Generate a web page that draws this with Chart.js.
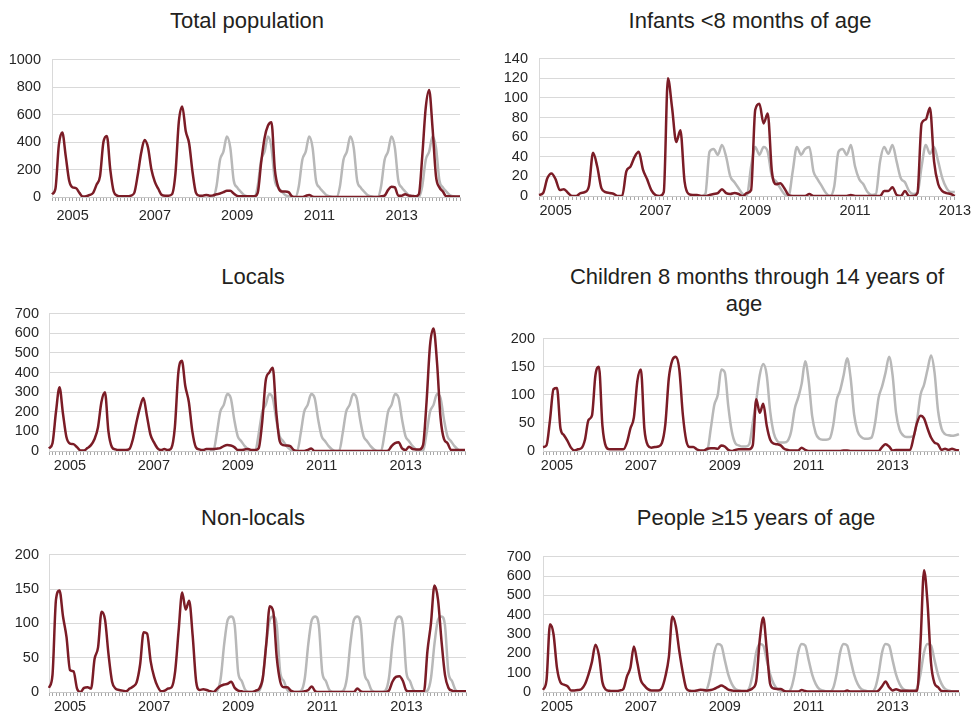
<!DOCTYPE html>
<html>
<head>
<meta charset="utf-8">
<title>Monthly cases</title>
<script src="https://cdn.jsdelivr.net/npm/chart.js@4.4.1/dist/chart.umd.min.js"></script>
<style>
  html, body { margin: 0; padding: 0; background: #fff; overflow: hidden; }
  body { width: 973px; height: 712px; position: relative; font-family: "Liberation Sans", Arial, sans-serif; }
  .title { position: absolute; width: 460px; text-align: center; font-size: 22px; line-height: 27px; color: #231f20; white-space: nowrap; }
  canvas { position: absolute; }
</style>
</head>
<body>

<div class="title" style="left:17px;top:7px">Total population</div>
<div class="title" style="left:520px;top:7px">Infants &lt;8 months of age</div>
<div class="title" style="left:23px;top:263px">Locals</div>
<div class="title" style="left:527px;top:263px">Children 8 months through 14 years of<br><span style="margin-right:26px">age</span></div>
<div class="title" style="left:23px;top:504px">Non-locals</div>
<div class="title" style="left:526px;top:504px">People ≥15 years of age</div>

<canvas id="total" width="486" height="189" style="left:0;top:40px"></canvas>
<canvas id="infants" width="487" height="189" style="left:486px;top:39px"></canvas>
<canvas id="locals" width="486" height="188" style="left:0;top:295px"></canvas>
<canvas id="children" width="487" height="161" style="left:486px;top:322px"></canvas>
<canvas id="nonlocals" width="486" height="188" style="left:0;top:536px"></canvas>
<canvas id="people" width="487" height="188" style="left:486px;top:536px"></canvas>

<script>
// month categories, "YYYY-MM"
function monthLabels(year, month, count) {
  const out = [];
  for (let k = 0; k < count; k++) {
    const m = month - 1 + k;
    out.push((year + Math.floor(m / 12)) + '-' + String(m % 12 + 1).padStart(2, '0'));
  }
  return out;
}

const monthsJul04 = monthLabels(2004, 7, 120);   // left column panels
const monthsSep04 = monthLabels(2004, 9, 120);   // right column panels
const monthsInfants = monthLabels(2004, 9, 101);
const yearTicks = ['2005', '2007', '2009', '2011', '2013'];

// Total population
const totalRed = [20, 60, 380, 470, 300, 120, 70, 65, 30, 3,
  5, 15, 30, 90, 150, 400, 445, 200, 40, 10,
  5, 5, 5, 10, 30, 160, 320, 415, 360, 200,
  110, 60, 15, 10, 10, 20, 170, 550, 660, 480,
  390, 180, 30, 10, 10, 15, 10, 12, 20, 25,
  35, 45, 45, 25, 8, 5, 5, 5, 5, 5,
  30, 250, 430, 520, 545, 200, 70, 40, 40, 35,
  5, 0, 0, 0, 8, 15, 3, 0, 0, 0,
  0, 0, 0, 0, 0, 0, 0, 0, 0, 0,
  0, 0, 0, 0, 0, 0, 5, 10, 50, 75,
  70, 10, 10, 20, 10, 8, 5, 20, 300, 650,
  780, 500, 150, 70, 40, 5, 5, 3, 3, 3];
const totalGreyFrom = '2008-05';
const totalGrey = [0,
  0, 80, 270, 330, 440, 360, 120, 70, 40, 15, 5, 0,
  0, 80, 270, 330, 440, 360, 120, 70, 40, 15, 5, 0,
  0, 80, 270, 330, 440, 360, 120, 70, 40, 15, 5, 0,
  0, 80, 270, 330, 440, 360, 120, 70, 40, 15, 5, 0,
  0, 80, 270, 330, 440, 360, 120, 70, 40, 15, 5, 0,
  0, 80, 270, 330, 440, 360, 120, 70, 40, 15, 5, 0,
  0];

// Infants <8 months
const infantsRed = [1, 3, 18, 23, 17, 6, 7, 3, 0, 0,
  3, 4, 10, 44, 30, 8, 4, 3, 2, 0,
  0, 25, 30, 40, 45, 27, 17, 6, 1, 0,
  4, 120, 90, 55, 67, 15, 2, 1, 1, 0,
  0, 1, 2, 3, 7, 3, 2, 3, 2, 0,
  3, 6, 88, 94, 74, 84, 25, 12, 13, 8,
  1, 0, 0, 0, 0, 2, 0, 0, 0, 0,
  0, 0, 0, 0, 0, 1, 0, 0, 0, 0,
  0, 0, 0, 5, 5, 9, 1, 0, 5, 0,
  0, 3, 74, 78, 90, 35, 12, 5, 3, 2,
  0];
const infantsGreyFrom = '2007-12';
const infantsGrey = [0,
  2, 45, 48, 42, 52, 40, 20, 14, 8, 2,
  1, 30, 50, 42, 50, 45, 20, 15, 8, 2,
  0, 25, 50, 42, 48, 50, 25, 17, 10, 3,
  0, 10, 45, 48, 42, 52, 30, 17, 12, 4,
  1, 2, 35, 50, 43, 52, 35, 18, 14, 5,
  2, 3, 30, 52, 43, 50, 35, 18, 8, 4, 4];

// Locals
const localsRed = [13, 40, 200, 325, 190, 70, 38, 35, 20, 3,
  3, 15, 30, 60, 120, 250, 300, 100, 20, 8,
  5, 5, 5, 10, 60, 145, 220, 270, 180, 85,
  45, 15, 5, 10, 5, 15, 120, 400, 460, 330,
  250, 100, 20, 8, 5, 10, 10, 10, 12, 15,
  25, 30, 28, 20, 5, 5, 8, 10, 5, 5,
  15, 150, 360, 400, 425, 200, 50, 30, 28, 25,
  5, 0, 0, 0, 5, 13, 0, 0, 0, 0,
  0, 0, 0, 0, 0, 0, 0, 0, 0, 0,
  0, 0, 0, 0, 0, 0, 0, 2, 25, 40,
  45, 13, 5, 22, 10, 8, 8, 30, 250, 540,
  625, 450, 170, 60, 40, 5, 5, 5, 5, 5];
const localsGreyFrom = '2008-05';
const localsGrey = [0,
  0, 90, 200, 235, 290, 270, 160, 75, 50, 25, 8, 0,
  0, 90, 200, 235, 290, 270, 160, 75, 50, 25, 8, 0,
  0, 90, 200, 235, 290, 270, 160, 75, 50, 25, 8, 0,
  0, 90, 200, 235, 290, 270, 160, 75, 50, 25, 8, 0,
  0, 90, 200, 235, 290, 270, 160, 75, 50, 25, 8, 0,
  0, 90, 200, 235, 290, 270, 160, 75, 50, 25, 8, 0,
  0];

// Children 8 months through 14 years
const childrenRed = [7, 10, 55, 110, 112, 40, 28, 18, 6, 1,
  3, 5, 20, 55, 63, 135, 150, 45, 8, 3,
  3, 3, 3, 3, 15, 40, 60, 125, 145, 40,
  10, 6, 7, 8, 14, 48, 130, 162, 168, 145,
  65, 18, 7, 7, 3, 1, 1, 4, 5, 5,
  4, 10, 8, 2, 0, 2, 3, 3, 3, 3,
  10, 92, 68, 84, 45, 20, 13, 12, 10, 4,
  2, 1, 1, 1, 6, 2, 0, 0, 0, 0,
  0, 0, 0, 0, 0, 0, 1, 1, 0, 0,
  0, 0, 0, 0, 0, 0, 0, 7, 12, 8,
  1, 2, 2, 2, 2, 2, 24, 50, 63, 58,
  40, 24, 15, 12, 2, 4, 2, 4, 2, 1];
const childrenGreyFrom = '2008-07';
const childrenGrey = [0, 2, 40, 82, 100, 145, 140, 80, 35, 14, 10, 8, 8, 12,
  50, 90, 135, 155, 135, 70, 32, 18, 15, 15, 18,
  35, 75, 95, 120, 160, 125, 62, 32, 22, 20, 20, 22,
  45, 90, 108, 135, 165, 130, 65, 35, 25, 22, 22, 24,
  50, 95, 115, 140, 168, 135, 68, 38, 28, 25, 25, 27,
  55, 100, 118, 145, 170, 140, 72, 40, 30, 28, 27, 28, 30];

// Non-locals
const nonlocalsRed = [6, 25, 135, 148, 110, 80, 32, 30, 5, 0,
  6, 7, 5, 48, 65, 117, 105, 54, 15, 5,
  3, 2, 1, 5, 8, 14, 40, 87, 85, 45,
  22, 8, 1, 2, 5, 7, 30, 90, 145, 120,
  133, 82, 15, 3, 4, 3, 1, 0, 5, 9,
  11, 12, 15, 6, 2, 1, 0, 0, 0, 2,
  5, 20, 70, 125, 117, 50, 15, 7, 7, 2,
  0, 0, 0, 1, 3, 8, 1, 0, 0, 0,
  0, 0, 0, 0, 0, 0, 0, 0, 5, 1,
  0, 0, 0, 0, 0, 0, 0, 2, 15, 22,
  23, 16, 2, 1, 1, 1, 1, 1, 60, 100,
  155, 135, 75, 25, 6, 2, 1, 1, 1, 1];
const nonlocalsGreyFrom = '2008-06';
const nonlocalsGrey = [0,
  2, 20, 70, 105, 110, 97, 28, 16, 3, 0, 0, 0,
  2, 20, 70, 105, 110, 97, 28, 16, 3, 0, 0, 0,
  2, 20, 70, 105, 110, 97, 28, 16, 3, 0, 0, 0,
  2, 20, 70, 105, 110, 97, 28, 16, 3, 0, 0, 0,
  2, 20, 70, 105, 110, 97, 28, 16, 3, 0, 0, 0,
  2, 20, 70, 105, 110, 97, 28, 16, 3, 0, 0, 0];

// People >=15 years
const peopleRed = [11, 60, 350, 300, 125, 50, 38, 30, 8, 8,
  10, 15, 40, 90, 156, 245, 190, 50, 12, 6,
  5, 5, 8, 16, 80, 125, 235, 150, 60, 33,
  15, 8, 8, 8, 20, 80, 180, 390, 340, 210,
  100, 18, 6, 5, 8, 11, 10, 8, 10, 16,
  25, 33, 25, 12, 8, 5, 5, 5, 5, 10,
  20, 57, 270, 385, 220, 40, 18, 16, 16, 6,
  3, 3, 3, 3, 10, 5, 2, 2, 2, 2,
  2, 2, 2, 2, 2, 2, 2, 8, 2, 2,
  2, 2, 2, 2, 2, 2, 8, 30, 54, 25,
  8, 14, 8, 6, 6, 6, 6, 6, 260, 630,
  460, 150, 45, 25, 5, 4, 3, 3, 3, 3];
const peopleGreyFrom = '2008-07';
const peopleGrey = [0,
  20, 95, 205, 248, 240, 165, 90, 42, 16, 8, 3, 2,
  20, 95, 205, 248, 240, 165, 90, 42, 16, 8, 3, 2,
  20, 95, 205, 248, 240, 165, 90, 42, 16, 8, 3, 2,
  20, 95, 205, 248, 240, 165, 90, 42, 16, 8, 3, 2,
  20, 95, 205, 248, 240, 165, 90, 42, 16, 8, 3, 2,
  20, 95, 205, 248, 240, 165, 90, 42, 16, 8, 3, 2,
  2];

Chart.defaults.font.family = '"Liberation Sans", Arial, sans-serif';
Chart.defaults.color = '#262626';

function smallChart(id, labels, red, grey, greyFrom, yMax, yStep, box) {
  // grey baseline only exists from greyFrom onward
  const greyData = labels.map(() => null);
  const start = labels.indexOf(greyFrom);
  grey.forEach((v, k) => { greyData[start + k] = v; });

  return new Chart(document.getElementById(id), {
    type: 'line',
    data: {
      labels: labels,
      datasets: [
        {
          label: 'Cases',
          data: red,
          borderColor: '#7b1c26',
          borderWidth: 2.5,
          pointRadius: 0,
          cubicInterpolationMode: 'monotone'
        },
        {
          label: 'Expected',
          data: greyData,
          borderColor: '#b8b8b8',
          borderWidth: 2.5,
          pointRadius: 0,
          cubicInterpolationMode: 'monotone'
        }
      ]
    },
    options: {
      responsive: false,
      animation: false,
      devicePixelRatio: 1,
      layout: { padding: { top: 14, right: box.padRight, bottom: 2, left: 0 } },
      plugins: { legend: { display: false }, tooltip: { enabled: false } },
      scales: {
        x: {
          grid: { drawOnChartArea: false, tickLength: 4, color: '#a8a8a8' },
          border: { color: '#c8c8c8' },
          ticks: {
            autoSkip: false,
            maxRotation: 0,
            minRotation: 0,
            padding: box.xPad,
            font: { size: 14.5 },
            callback: function (v) {
              const l = this.getLabelForValue(v);
              const y = l.slice(0, 4);
              return (l.endsWith('-01') && yearTicks.includes(y)) ? y : '';
            }
          },
          afterFit: s => { s.height = 30; }
        },
        y: {
          min: 0,
          max: yMax,
          ticks: {
            stepSize: yStep,
            autoSkip: false,
            padding: box.yPad,
            font: { size: 14.5 },
            callback: v => String(v)
          },
          grid: { color: '#d9d9d9', drawTicks: false },
          border: { color: '#d9d9d9' },
          afterFit: s => { s.width = box.yW; }
        }
      }
    }
  });
}

smallChart('total', monthsJul04, totalRed, totalGrey, totalGreyFrom, 1000, 200,
  { yW: 52, padRight: 26, xPad: 6, yPad: 11 });
smallChart('infants', monthsInfants, infantsRed, infantsGrey, infantsGreyFrom, 140, 20,
  { yW: 53, padRight: 18, xPad: 2, yPad: 11 });
smallChart('locals', monthsJul04, localsRed, localsGrey, localsGreyFrom, 700, 100,
  { yW: 49, padRight: 21, xPad: 2, yPad: 10 });
smallChart('children', monthsSep04, childrenRed, childrenGrey, childrenGreyFrom, 200, 50,
  { yW: 57, padRight: 14, xPad: 2, yPad: 8 });
smallChart('nonlocals', monthsJul04, nonlocalsRed, nonlocalsGrey, nonlocalsGreyFrom, 200, 50,
  { yW: 49, padRight: 20, xPad: 2, yPad: 10 });
smallChart('people', monthsSep04, peopleRed, peopleGrey, peopleGreyFrom, 700, 100,
  { yW: 57, padRight: 14, xPad: 2, yPad: 12 });
</script>
</body>
</html>
